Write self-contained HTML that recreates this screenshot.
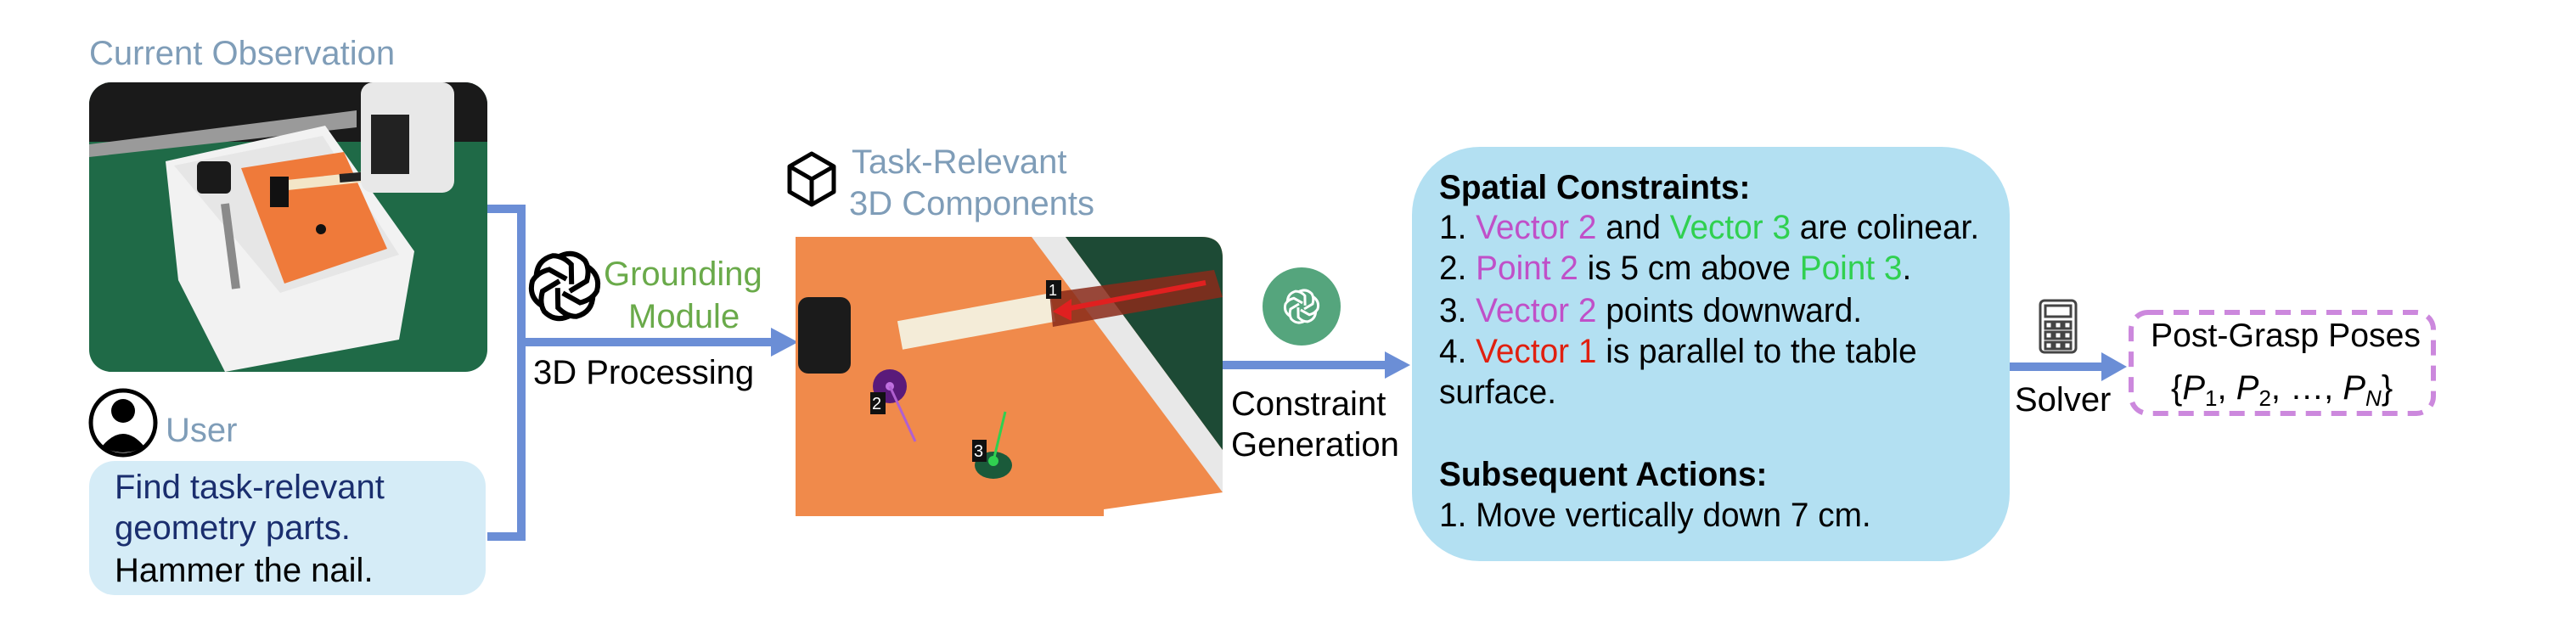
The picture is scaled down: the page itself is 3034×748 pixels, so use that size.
<!DOCTYPE html>
<html><head><meta charset="utf-8"><style>
html,body{margin:0;padding:0;background:#fff;}
svg{display:block;}
text{font-family:"Liberation Sans",Arial,sans-serif;}
</style></head><body>
<svg width="3034" height="748" viewBox="0 0 3034 748" xmlns="http://www.w3.org/2000/svg">
<defs>
<clipPath id="c1"><rect x="105" y="97" width="469" height="341" rx="26"/></clipPath>
<clipPath id="c2"><path d="M937 279 H1415 Q1440 279 1440 304 V608 H937 Z"/></clipPath>
</defs>
<rect width="3034" height="748" fill="#fff"/>

<!-- Current Observation -->
<text x="105" y="76" font-size="40" fill="#7f9db8">Current Observation</text>
<g clip-path="url(#c1)">
  <rect x="105" y="97" width="469" height="341" fill="#1f6a47"/>
  <rect x="105" y="97" width="469" height="70" fill="#1a1a1a"/>
  <polygon points="105,170 420,130 420,150 105,185" fill="#9a9a9a"/>
  <polygon points="195,190 383,148 488,296 470,400 265,438 210,330" fill="#f2f2f2"/>
  <polygon points="205,195 380,160 470,300 330,345" fill="#e6e6e6"/>
  <polygon points="284,198 405,179 456,293 335,334" fill="#ef7a3a"/>
  <rect x="232" y="190" width="40" height="38" rx="6" fill="#1a1a1a"/>
  <line x1="265" y1="240" x2="278" y2="340" stroke="#8a8a8a" stroke-width="10"/>
  <line x1="320" y1="220" x2="460" y2="205" stroke="#f3e6c8" stroke-width="12"/>
  <line x1="400" y1="210" x2="460" y2="205" stroke="#222" stroke-width="10"/>
  <rect x="318" y="208" width="22" height="36" fill="#111"/>
  <circle cx="378" cy="270" r="6" fill="#111"/>
  <rect x="425" y="97" width="110" height="130" rx="14" fill="#e8e8e8"/>
  <rect x="437" y="135" width="45" height="70" fill="#222"/>
</g>

<!-- User -->
<circle cx="145" cy="498" r="38" fill="#fff" stroke="#000" stroke-width="5"/>
<circle cx="145" cy="484" r="14" fill="#000"/>
<path d="M120 526 Q145 496 170 526 Q145 540 120 526 Z" fill="#000"/>
<text x="195" y="520" font-size="40" fill="#7f9db8">User</text>
<rect x="105" y="543" width="467" height="158" rx="30" fill="#d5ecf7"/>
<text x="135" y="587" font-size="40" fill="#1a2e6e">Find task-relevant</text>
<text x="135" y="635" font-size="40" fill="#1a2e6e">geometry parts.</text>
<text x="135" y="685" font-size="40" fill="#000">Hammer the nail.</text>

<!-- connector -->
<path d="M574 246 H614 V632 H574" fill="none" stroke="#6b8ed6" stroke-width="10"/>
<line x1="614" y1="403" x2="912" y2="403" stroke="#6b8ed6" stroke-width="10"/>
<polygon points="908,386 940,403 908,420" fill="#6b8ed6"/>

<!-- OpenAI logo -->
<g transform="translate(665,337)" fill="none" stroke="#000" stroke-width="6">
  <g id="petal"><path d="M-8 -34 Q10 -44 24 -30 Q30 -20 26 -6 L6 6"/></g>
  <use href="#petal" transform="rotate(60)"/>
  <use href="#petal" transform="rotate(120)"/>
  <use href="#petal" transform="rotate(180)"/>
  <use href="#petal" transform="rotate(240)"/>
  <use href="#petal" transform="rotate(300)"/>
</g>
<text x="711" y="336" font-size="40" fill="#6aaa4a">Grounding</text>
<text x="740" y="386" font-size="40" fill="#6aaa4a">Module</text>
<text x="628" y="452" font-size="40" fill="#000">3D Processing</text>

<!-- Task relevant -->
<g transform="translate(956,211)" fill="none" stroke="#000" stroke-width="5" stroke-linejoin="round">
  <polygon points="0,-30 26,-15 26,15 0,30 -26,15 -26,-15"/>
  <path d="M0 0 L0 30 M0 0 L-26 -15 M0 0 L26 -15"/>
</g>
<text x="1003" y="204" font-size="40" fill="#7f9db8">Task-Relevant</text>
<text x="1000" y="253" font-size="40" fill="#7f9db8">3D Components</text>

<g clip-path="url(#c2)">
  <rect x="937" y="279" width="503" height="329" fill="#f08a4b"/>
  <polygon points="1215,279 1255,279 1440,530 1440,580" fill="#e8e8e8"/>
  <polygon points="1255,279 1440,279 1440,530" fill="#1d4a35"/>
  <polygon points="1300,600 1440,580 1440,608 1300,608" fill="#fff"/>
  <line x1="1060" y1="395" x2="1240" y2="362" stroke="#f4ecd8" stroke-width="34"/>
  <polygon points="1236,345 1430,318 1440,350 1240,385" fill="#8a2a1a" opacity="0.85"/>
  <line x1="1420" y1="333" x2="1250" y2="365" stroke="#e02020" stroke-width="6"/>
  <polygon points="1240,367 1262,352 1262,378" fill="#e02020"/>
  <rect x="1232" y="330" width="18" height="22" fill="#111"/>
  <text x="1235" y="348" font-size="18" fill="#fff">1</text>
  <rect x="940" y="350" width="62" height="90" rx="12" fill="#1b1b1b"/>
  <circle cx="1048" cy="455" r="20" fill="#5a1a7a"/>
  <circle cx="1048" cy="455" r="5" fill="#c070e0"/>
  <line x1="1048" y1="455" x2="1078" y2="520" stroke="#b060d0" stroke-width="3"/>
  <rect x="1025" y="462" width="18" height="26" fill="#111"/>
  <text x="1027" y="482" font-size="20" fill="#fff">2</text>
  <ellipse cx="1170" cy="548" rx="22" ry="16" fill="#1a5a3a"/>
  <circle cx="1170" cy="543" r="6" fill="#30d050"/>
  <line x1="1170" y1="543" x2="1184" y2="485" stroke="#30d050" stroke-width="3"/>
  <rect x="1145" y="518" width="17" height="26" fill="#111"/>
  <text x="1147" y="538" font-size="20" fill="#fff">3</text>
</g>

<!-- constraint generation -->
<circle cx="1533" cy="361" r="46" fill="#55a57d"/>
<g transform="translate(1533,361) scale(0.5)" fill="none" stroke="#fff" stroke-width="6">
  <use href="#petal"/>
  <use href="#petal" transform="rotate(60)"/>
  <use href="#petal" transform="rotate(120)"/>
  <use href="#petal" transform="rotate(180)"/>
  <use href="#petal" transform="rotate(240)"/>
  <use href="#petal" transform="rotate(300)"/>
</g>
<line x1="1440" y1="430" x2="1635" y2="430" stroke="#6b8ed6" stroke-width="10"/>
<polygon points="1631,414 1661,430 1631,446" fill="#6b8ed6"/>
<text x="1450" y="489" font-size="40" fill="#000">Constraint</text>
<text x="1450" y="537" font-size="40" fill="#000">Generation</text>

<!-- big box -->
<rect x="1663" y="173" width="704" height="488" rx="80" fill="#b3e0f2"/>
<g font-size="40" fill="#000" transform="translate(1695,0) scale(0.97,1) translate(-1695,0)">
<text x="1695" y="234" font-weight="bold">Spatial Constraints:</text>
<text x="1695" y="281">1. <tspan fill="#c050c8">Vector 2</tspan> and <tspan fill="#30d050">Vector 3</tspan> are colinear.</text>
<text x="1695" y="329">2. <tspan fill="#c050c8">Point 2</tspan> is 5 cm above <tspan fill="#30d050">Point 3</tspan>.</text>
<text x="1695" y="379">3. <tspan fill="#c050c8">Vector 2</tspan> points downward.</text>
<text x="1695" y="427">4. <tspan fill="#e02010">Vector 1</tspan> is parallel to the table</text>
<text x="1695" y="475">surface.</text>
<text x="1695" y="572" font-weight="bold">Subsequent Actions:</text>
<text x="1695" y="620">1. Move vertically down 7 cm.</text>
</g>

<!-- solver -->
<g fill="none" stroke="#444" stroke-width="3">
  <rect x="2403" y="354" width="42" height="61" rx="5"/>
  <rect x="2409" y="360" width="30" height="13"/>
  <rect x="2409" y="379" width="8" height="8"/><rect x="2420" y="379" width="8" height="8"/><rect x="2431" y="379" width="8" height="8"/>
  <rect x="2409" y="391" width="8" height="8"/><rect x="2420" y="391" width="8" height="8"/><rect x="2431" y="391" width="8" height="8"/>
  <rect x="2409" y="403" width="8" height="8"/><rect x="2420" y="403" width="8" height="8"/><rect x="2431" y="403" width="8" height="8"/>
</g>
<line x1="2367" y1="432" x2="2478" y2="432" stroke="#6b8ed6" stroke-width="10"/>
<polygon points="2475,415 2505,432 2475,449" fill="#6b8ed6"/>
<text x="2373" y="484" font-size="40" fill="#000">Solver</text>

<rect x="2510" y="368" width="356" height="119" rx="20" fill="none" stroke="#cc88dd" stroke-width="6" stroke-dasharray="18,12"/>
<text x="2533" y="408" font-size="39" fill="#000" textLength="318" lengthAdjust="spacingAndGlyphs">Post-Grasp Poses</text>
<text x="2557" y="470" font-size="40" font-family="Liberation Serif, serif" fill="#000">{<tspan font-style="italic">P</tspan><tspan font-size="26" dy="8">1</tspan><tspan dy="-8">, </tspan><tspan font-style="italic">P</tspan><tspan font-size="26" dy="8">2</tspan><tspan dy="-8">, …, </tspan><tspan font-style="italic">P</tspan><tspan font-size="26" font-style="italic" dy="8">N</tspan><tspan dy="-8">}</tspan></text>
</svg>
</body></html>
